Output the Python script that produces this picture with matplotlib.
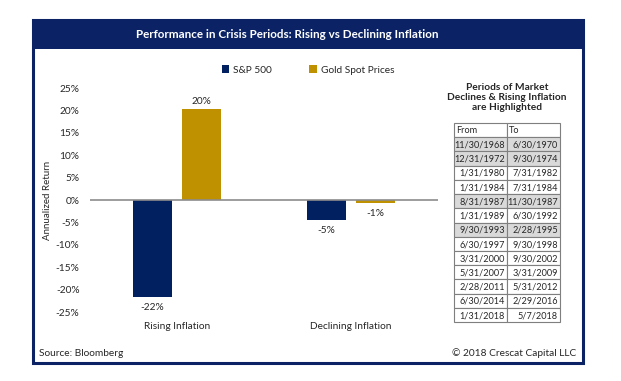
import matplotlib
matplotlib.use("Agg")
import matplotlib.pyplot as plt
from matplotlib.patches import Rectangle
import numpy as np

categories = ["Rising Inflation", "Declining Inflation"]
sp500 = [-21.7, -4.5]
gold = [20.3, -0.7]
sp_labels = ["-22%", "-5%"]
gold_labels = ["20%", "-1%"]
yticks = [-25, -20, -15, -10, -5, 0, 5, 10, 15, 20, 25]

table_header = ["From", "To"]
from_dates = ["11/30/1968", "12/31/1972", "1/31/1980", "1/31/1984", "8/31/1987",
              "1/31/1989", "9/30/1993", "6/30/1997", "3/31/2000", "5/31/2007",
              "2/28/2011", "6/30/2014", "1/31/2018"]
to_dates = ["6/30/1970", "9/30/1974", "7/31/1982", "7/31/1984", "11/30/1987",
            "6/30/1992", "2/28/1995", "9/30/1998", "9/30/2002", "3/31/2009",
            "5/31/2012", "2/29/2016", "5/7/2018"]
highlighted = [True, True, False, False, True, False, True, False, False, False, False, False, False]

NAVY = "#0B2265"
BAR_NAVY = "#002060"
GOLD = "#BF9000"
TXT = "#262626"
FONT = "Lato"
plt.rcParams["font.family"] = [FONT, "DejaVu Sans"]

W, H = 621, 381
fig = plt.figure(figsize=(W / 100, H / 100), dpi=100)
fig.patch.set_facecolor("white")

def fx(x):
    return x / W

def fy(y):
    return 1 - y / H

# outer frame and banner
fig.patches.append(Rectangle((fx(33), fy(363)), fx(550), (363 - 20) / H, transform=fig.transFigure,
                             facecolor="none", edgecolor=NAVY, linewidth=2.2, zorder=5))
fig.patches.append(Rectangle((fx(32), fy(49)), fx(552), 29 / H, transform=fig.transFigure,
                             facecolor=NAVY, edgecolor=NAVY, linewidth=0, zorder=5))
fig.text(fx(287), fy(34.5), "Performance in Crisis Periods: Rising vs Declining Inflation",
         color="white", fontsize=8.4, fontweight="bold", ha="center", va="center", zorder=6)

# main axes
ax = fig.add_axes([fx(90), fy(312), fx(438 - 90), (312 - 88) / H])
ax.set_facecolor("none")
x = np.arange(len(categories))
bw = 0.224
off = 0.141
b1 = ax.bar(x - off, sp500, bw, color=BAR_NAVY, label="S&P 500", zorder=2)
b2 = ax.bar(x + off, gold, bw, color=GOLD, label="Gold Spot Prices", zorder=2)
ax.set_xlim(-0.5, 1.5)
ax.set_ylim(-25, 25)
ax.axhline(0, color="#8C8C8C", linewidth=1.2, zorder=3)
for s in ax.spines.values():
    s.set_visible(False)
ax.set_yticks(yticks)
ax.set_yticklabels([f"{t}%" for t in yticks], fontsize=7.3, color=TXT)
ax.tick_params(axis="y", length=0, pad=7.5)
ax.set_xticks(x)
ax.set_xticklabels(categories, fontsize=7.3, color=TXT)
ax.tick_params(axis="x", length=0, pad=7.5)
ax.set_ylabel("Annualized Return", fontsize=7.0, color=TXT, labelpad=3)

for rect, lab in zip(b1, sp_labels):
    h = rect.get_height()
    ax.annotate(lab, (rect.get_x() + rect.get_width() / 2, h), xytext=(0, -4),
                textcoords="offset points", ha="center", va="top", fontsize=7.3, color=TXT)
for rect, lab in zip(b2, gold_labels):
    h = rect.get_height()
    if h >= 0:
        ax.annotate(lab, (rect.get_x() + rect.get_width() / 2, h), xytext=(0, 2),
                    textcoords="offset points", ha="center", va="bottom", fontsize=7.3, color=TXT)
    else:
        ax.annotate(lab, (rect.get_x() + rect.get_width() / 2, h), xytext=(0, -4),
                    textcoords="offset points", ha="center", va="top", fontsize=7.3, color=TXT)

leg = fig.legend(handles=[b1, b2], loc="center left", bbox_to_anchor=(fx(222), fy(70)),
                 ncol=2, frameon=False, fontsize=7.3, handlelength=0.7, handleheight=0.7,
                 columnspacing=3.7, handletextpad=0.4, borderaxespad=0, borderpad=0)
for t in leg.get_texts():
    t.set_color(TXT)

# table title
fig.text(fx(507), fy(97.5), "Periods of Market\nDeclines & Rising Inflation\nare Highlighted",
         ha="center", va="center", fontsize=7.3, fontweight="bold", color=TXT,
         linespacing=1.15)

# table drawn in its own axes (x: columns 0..2, y: rows 0..n, top row at 0)
nrows = len(from_dates) + 1
tax = fig.add_axes([fx(454), fy(322), fx(560 - 454), (322 - 123) / H])
tax.set_xlim(0, 2)
tax.set_ylim(nrows, 0)
tax.axis("off")
rows = [table_header] + [[f, t] for f, t in zip(from_dates, to_dates)]
shade = [False] + highlighted
for r, (row, hl) in enumerate(zip(rows, shade)):
    for c, val in enumerate(row):
        tax.add_patch(Rectangle((c, r), 1, 1, facecolor="#D9D9D9" if hl else "white",
                                edgecolor="#7F7F7F", linewidth=0.8, clip_on=False))
        if r == 0:
            tax.text(c + 0.04, r + 0.55, val, ha="left", va="center", fontsize=6.6, color=TXT)
        else:
            tax.text(c + 0.96, r + 0.55, val, ha="right", va="center", fontsize=6.6, color=TXT)

fig.text(fx(39), fy(353), "Source: Bloomberg", fontsize=7.3, color=TXT, ha="left", va="center")
fig.text(fx(576), fy(353), "\u00a9 2018 Crescat Capital LLC", fontsize=7.3, color=TXT,
         ha="right", va="center")

fig.savefig("out.png", dpi=100)
